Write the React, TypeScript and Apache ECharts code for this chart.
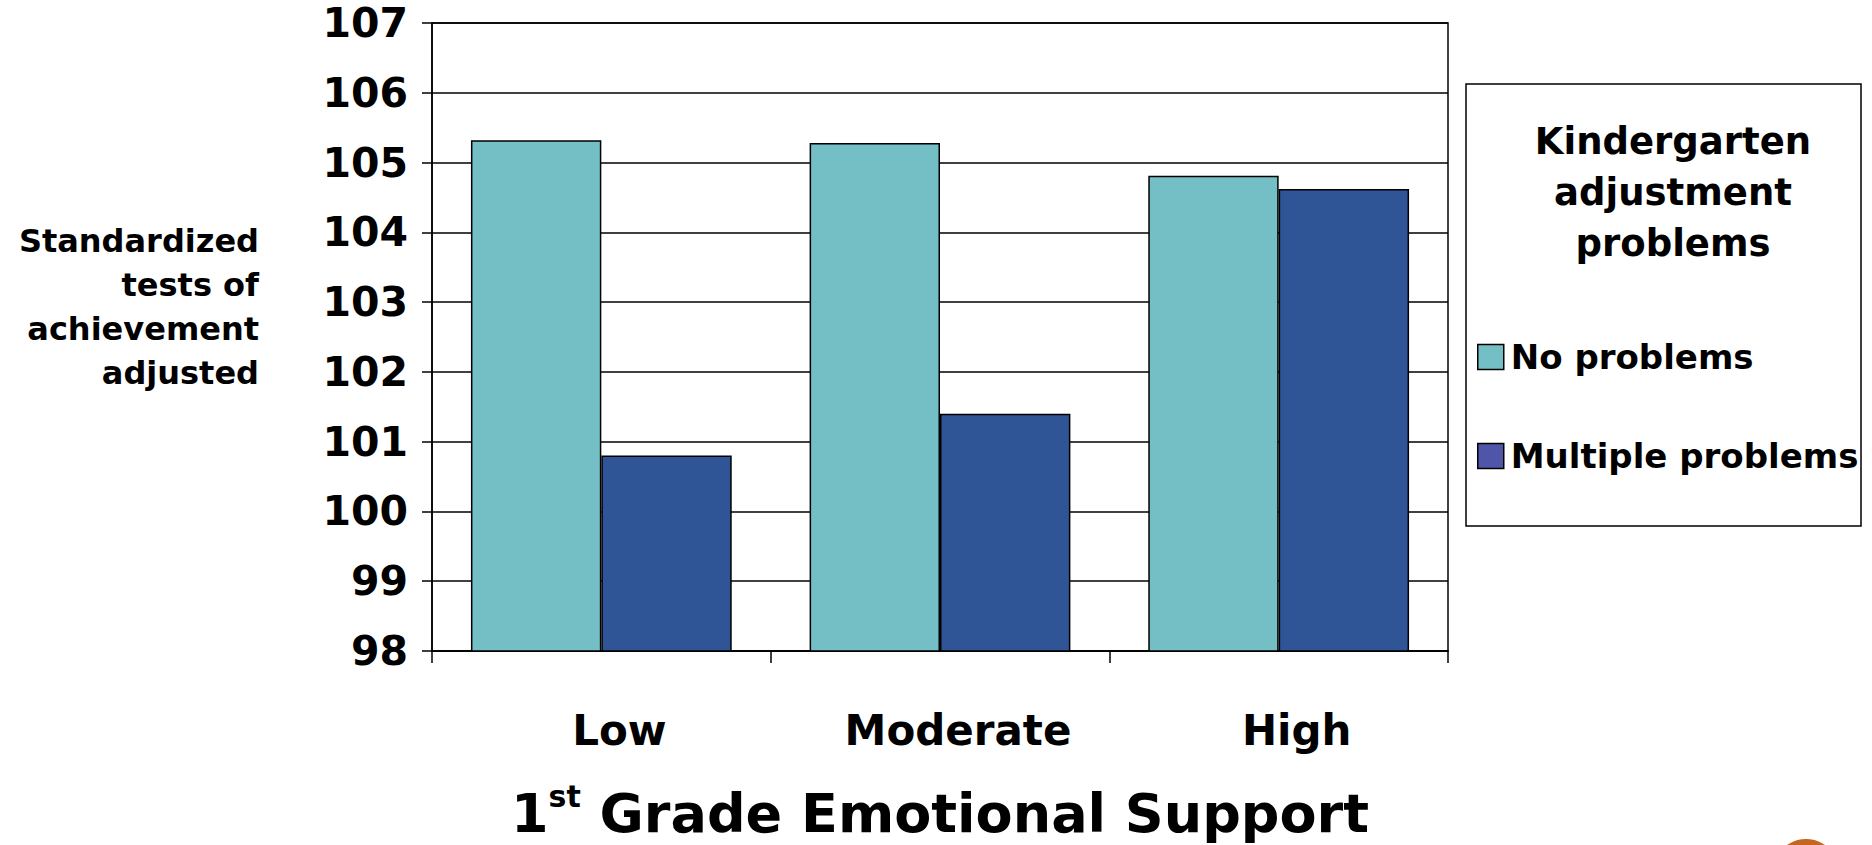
import React, { useEffect, useRef } from "react";
import * as echarts from "echarts";

const categories = ["Low", "Moderate", "High"];
const seriesNames = ["No problems", "Multiple problems"];
const noProblems = [105.32, 105.28, 104.81];
const multipleProblems = [100.8, 101.4, 104.62];
const yTicks = { min: 98, max: 107, interval: 1 };
const yAxisTitle = ["Standardized", "tests of", "achievement", "adjusted"];
const legendTitle = ["Kindergarten", "adjustment", "problems"];

const FONT = "'DejaVu Sans', sans-serif";

export default function App() {
  const ref = useRef<HTMLDivElement>(null);
  useEffect(() => {
    if (!ref.current) return;
    const chart = echarts.init(ref.current, null, { renderer: "svg" });
    const option = {
      animation: false,
      backgroundColor: "#ffffff",
      grid: {
        left: 432,
        top: 23,
        width: 1016,
        height: 633,
        show: true,
        borderColor: "#000",
        borderWidth: 1.5,
        backgroundColor: "transparent",
      },
      xAxis: {
        type: "category",
        data: categories,
        axisLine: { lineStyle: { color: "#000", width: 1.5 } },
        axisTick: { show: true, length: 12, lineStyle: { color: "#000", width: 1.5 } },
        axisLabel: {
          color: "#000",
          fontFamily: FONT,
          fontWeight: "bold",
          fontSize: 42,
          margin: 58,
          padding: [0, 0, 0, 36],
        },
        name: "{a|1}{b|st}{a| Grade Emotional Support}",
        nameLocation: "middle",
        nameGap: 130,
        nameTextStyle: {
          rich: {
            a: { fontFamily: FONT, fontWeight: "bold", fontSize: 54, color: "#000", lineHeight: 64 },
            b: { fontFamily: FONT, fontWeight: "bold", fontSize: 30, color: "#000", verticalAlign: "top", lineHeight: 64, padding: [0, 0, 22, 0] },
          },
        },
      },
      yAxis: {
        type: "value",
        min: yTicks.min,
        max: yTicks.max,
        interval: yTicks.interval,
        axisLine: { show: true, lineStyle: { color: "#000", width: 1.5 } },
        axisTick: { show: true, length: 10, lineStyle: { color: "#000", width: 1.5 } },
        axisLabel: {
          color: "#000",
          fontFamily: FONT,
          fontWeight: "bold",
          fontSize: 41,
          margin: 24,
        },
        splitLine: { show: true, lineStyle: { color: "#000", width: 1.5 } },
      },
      legend: {
        orient: "vertical",
        left: 1472,
        top: 331,
        itemWidth: 26,
        itemHeight: 25,
        itemGap: 57,
        icon: "rect",
        selectedMode: false,
        textStyle: {
          fontFamily: FONT,
          fontWeight: "bold",
          fontSize: 34,
          color: "#000",
          lineHeight: 42,
          padding: [0, 0, 0, 2],
        },
        data: [
          { name: seriesNames[0], itemStyle: { color: "#74BFC5", borderColor: "#000", borderWidth: 1.5 } },
          { name: seriesNames[1], itemStyle: { color: "#4F55A8", borderColor: "#000", borderWidth: 1.5 } },
        ],
      },
      graphic: [
        {
          type: "rect",
          shape: { x: 1466, y: 84, width: 395, height: 442 },
          style: { fill: "#fff", stroke: "#000", lineWidth: 1.5 },
          z: -1,
        },
        {
          type: "text",
          style: {
            text: legendTitle.join("\n"),
            x: 1673,
            y: 192,
            textAlign: "center",
            textVerticalAlign: "middle",
            fontFamily: FONT,
            fontWeight: "bold",
            fontSize: 37,
            lineHeight: 51,
            fill: "#000",
          },
        },
        {
          type: "text",
          style: {
            text: yAxisTitle.join("\n"),
            x: 259,
            y: 307,
            textAlign: "right",
            textVerticalAlign: "middle",
            fontFamily: FONT,
            fontWeight: "bold",
            fontSize: 32,
            lineHeight: 44,
            fill: "#000",
          },
        },
        {
          type: "circle",
          shape: { cx: 1806, cy: 872, r: 33 },
          style: { fill: "#C4661F" },
        },
      ],
      series: [
        {
          name: seriesNames[0],
          type: "bar",
          data: noProblems,
          barGap: "0%",
          barCategoryGap: "23%",
          itemStyle: { color: "#74BFC5", borderColor: "#000", borderWidth: 1.5 },
        },
        {
          name: seriesNames[1],
          type: "bar",
          data: multipleProblems,
          itemStyle: { color: "#2F5597", borderColor: "#000", borderWidth: 1.5 },
        },
      ],
    };
    chart.setOption(option as any);
    return () => chart.dispose();
  }, []);
  return (
    <div
      ref={ref}
      style={{ position: "fixed", left: 0, top: 0, width: "1872px", height: "845px" }}
    />
  );
}
